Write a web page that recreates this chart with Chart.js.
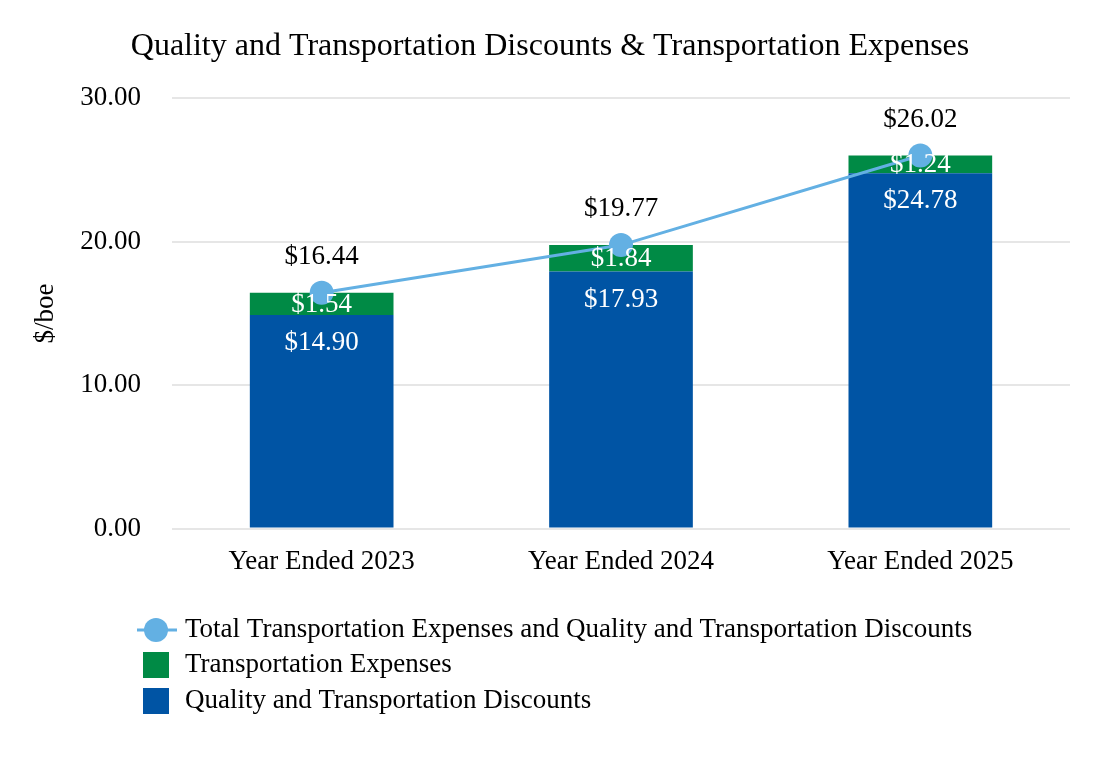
<!DOCTYPE html>
<html><head><meta charset="utf-8">
<script src="https://cdn.jsdelivr.net/npm/chart.js@4/dist/chart.umd.min.js"></script>
<style>html,body{margin:0;padding:0;background:#fff}#wrap{width:1100px;height:760px}</style>
</head><body><div id="wrap"><canvas id="c" width="1100" height="760"></canvas></div>
<script>
const categories = ["Year Ended 2023", "Year Ended 2024", "Year Ended 2025"];
const discounts = [14.90, 17.93, 24.78];
const expenses = [1.54, 1.84, 1.24];
const totals = [16.44, 19.77, 26.02];
const yTicks = [0, 10, 20, 30];
const seriesNames = ["Total Transportation Expenses and Quality and Transportation Discounts", "Transportation Expenses", "Quality and Transportation Discounts"];

const FONT = "'Liberation Serif', 'Times New Roman', serif";
const BLUE = "#0054A4", GREEN = "#008A45", LINE = "#63B0E3";
const FS = 27;

const labelPlugin = {
  id: 'labels',
  afterDatasetsDraw(chart) {
    const ctx = chart.ctx;
    ctx.save();
    ctx.font = FS + "px " + FONT;
    ctx.textAlign = 'center';
    ctx.textBaseline = 'middle';
    chart.getDatasetMeta(1).data.forEach((el, i) => {
      ctx.fillStyle = '#ffffff';
      ctx.fillText('$' + discounts[i].toFixed(2), el.x, el.y + 28);
    });
    chart.getDatasetMeta(2).data.forEach((el, i) => {
      ctx.fillStyle = '#ffffff';
      ctx.fillText('$' + expenses[i].toFixed(2), el.x, (el.y + el.base) / 2 + 1);
    });
    chart.getDatasetMeta(0).data.forEach((el, i) => {
      ctx.fillStyle = '#000000';
      ctx.fillText('$' + totals[i].toFixed(2), el.x, el.y - 36);
    });
    ctx.restore();
  },
  afterDraw(chart) {
    const ctx = chart.ctx;
    ctx.save();
    ctx.font = FS + "px " + FONT;
    ctx.textBaseline = 'middle';
    ctx.textAlign = 'left';
    const x0 = 137, tx = 185;
    const rows = [630, 665, 701];
    ctx.strokeStyle = LINE; ctx.lineWidth = 3;
    ctx.beginPath(); ctx.moveTo(x0, rows[0]); ctx.lineTo(x0 + 40, rows[0]); ctx.stroke();
    ctx.fillStyle = LINE; ctx.beginPath(); ctx.arc(x0 + 19, rows[0], 12, 0, Math.PI * 2); ctx.fill();
    ctx.fillStyle = GREEN; ctx.fillRect(143, rows[1] - 13, 26, 26);
    ctx.fillStyle = BLUE; ctx.fillRect(143, rows[2] - 13, 26, 26);
    ctx.fillStyle = '#000';
    seriesNames.forEach((n, i) => ctx.fillText(n, tx, rows[i]));
    ctx.restore();
  }
};

new Chart(document.getElementById('c'), {
  data: {
    labels: categories,
    datasets: [
      { type: 'line', label: seriesNames[0], data: totals, borderColor: LINE, backgroundColor: LINE, borderWidth: 3, pointRadius: 12, pointHoverRadius: 12, pointBackgroundColor: LINE, pointBorderWidth: 0, order: 0 },
      { type: 'bar', label: seriesNames[2], data: discounts, backgroundColor: BLUE, stack: 's', order: 1, barPercentage: 0.48, categoryPercentage: 1 },
      { type: 'bar', label: seriesNames[1], data: expenses, backgroundColor: GREEN, stack: 's', order: 2, barPercentage: 0.48, categoryPercentage: 1 }
    ]
  },
  options: {
    responsive: false,
    animation: false,
    devicePixelRatio: 1,
    layout: { padding: { left: 30, right: 30, top: 27, bottom: 173 } },
    plugins: {
      legend: { display: false },
      tooltip: { enabled: false },
      title: { display: true, text: 'Quality and Transportation Discounts & Transportation Expenses', color: '#000', font: { family: FONT, size: 32, weight: 'normal' }, padding: { top: 0, bottom: 33 } }
    },
    scales: {
      x: {
        stacked: true,
        grid: { display: false },
        border: { display: false },
        ticks: { color: '#000', font: { family: FONT, size: FS }, padding: 9 }
      },
      y: {
        stacked: true,
        min: 0, max: 30,
        afterBuildTicks(s) { s.ticks = yTicks.map(v => ({ value: v })); },
        afterFit(s) { s.width = 142; },
        grid: { color: '#e6e6e6', lineWidth: 2, drawTicks: false },
        border: { display: false },
        title: { display: true, text: '$/boe', color: '#000', font: { family: FONT, size: FS }, padding: 0 },
        ticks: { color: '#000', font: { family: FONT, size: FS }, padding: 31, callback: v => Number(v).toFixed(2) }
      }
    }
  },
  plugins: [labelPlugin]
});
</script></body></html>
